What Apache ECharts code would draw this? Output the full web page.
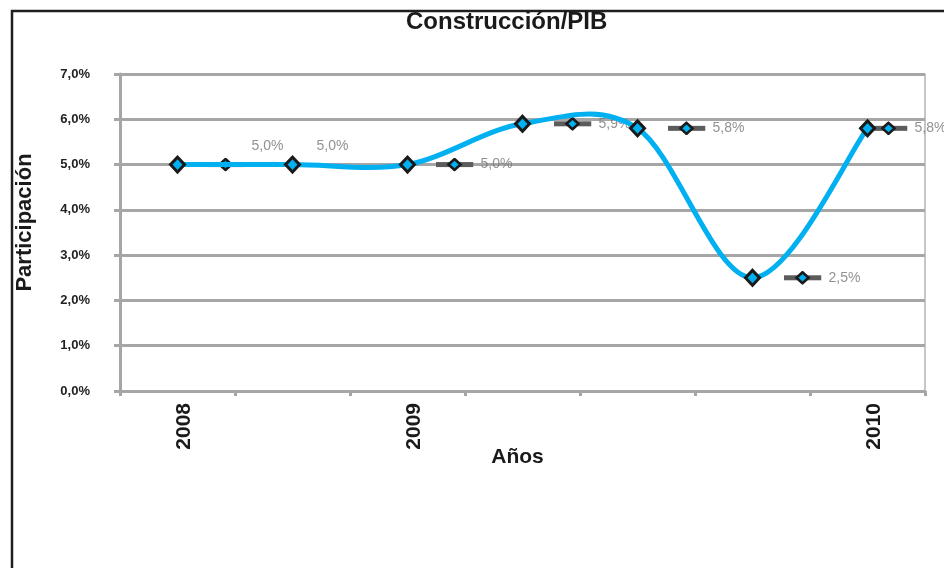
<!DOCTYPE html>
<html>
<head>
<meta charset="utf-8">
<script src="https://cdn.jsdelivr.net/npm/echarts@6/dist/echarts.min.js"></script>
<style>
  html, body { margin: 0; padding: 0; background: #fff; }
  #chart { width: 944px; height: 568px; }
</style>
</head>
<body>
<div id="chart"></div>
<script>
// Share of construction in GDP (percent)
const categories = ['2008', '', '2009', '', '', '', '2010'];
const participacion = [5.0, 5.0, 5.0, 5.9, 5.8, 2.5, 5.8];
const yTicks = [0, 1, 2, 3, 4, 5, 6, 7];

const pct = v => v.toFixed(1).replace('.', ',') + '%';
const FONT = 'Liberation Sans, Arial, sans-serif';

// Legend-key icon shown inside each data label (grey dash + diamond marker)
const keySvg =
  "<svg xmlns='http://www.w3.org/2000/svg' width='38' height='14'>" +
  "<rect x='0' y='4.5' width='38' height='5' fill='#5c5c5c'/>" +
  "<path d='M19 1.5 L25 7 L19 12.5 L13 7 Z' fill='#00b0f0' stroke='#1a1a1a' stroke-width='2.6'/>" +
  "</svg>";
const keyImg = 'data:image/svg+xml;charset=utf-8,' + encodeURIComponent(keySvg);

// Per-point label placement (offset from the marker centre, and layout kind)
const labelPlacement = [
  { dx: 29, dy: -9, kind: 'stacked' },
  { dx: 24, dy: -18, kind: 'text' },
  { dx: 28, dy: 0, kind: 'key' },
  { dx: 31, dy: 0, kind: 'key' },
  { dx: 30, dy: 0, kind: 'key' },
  { dx: 31, dy: 0, kind: 'key' },
  { dx: 2, dy: 0, kind: 'key' }
];

const txt = { color: '#767676', fontSize: 14, fontFamily: FONT, lineHeight: 18 };
const labelRich = {
  k: { width: 38, height: 14, lineHeight: 18, backgroundColor: { image: keyImg } },
  t: Object.assign({ padding: [0, 0, 0, 7] }, txt),
  t0: Object.assign({ padding: [0, 0, 0, 45] }, txt),
  tp: Object.assign({}, txt)
};

const labelData = participacion.map((v, i) => {
  const p = labelPlacement[i];
  let fmt;
  if (p.kind === 'stacked') fmt = '{t0|' + pct(v) + '}\n{k|}';
  else if (p.kind === 'text') fmt = '{tp|' + pct(v) + '}';
  else fmt = '{k|}{t|' + pct(v) + '}';
  return {
    value: [i, v],
    label: {
      show: true,
      position: 'inside',
      align: 'left',
      verticalAlign: 'middle',
      offset: [p.dx, p.dy],
      formatter: fmt,
      rich: labelRich
    }
  };
});

// Smoothed (Catmull-Rom) curve through every data point, in pixel space
function renderCurve(params, api) {
  if (params.dataIndex !== 0) return null;
  const pts = participacion.map((v, i) => api.coord([i, v]));
  const n = pts.length;
  let d = 'M' + pts[0][0] + ' ' + pts[0][1];
  for (let i = 0; i < n - 1; i++) {
    const p0 = pts[Math.max(i - 1, 0)];
    const p1 = pts[i];
    const p2 = pts[i + 1];
    const p3 = pts[Math.min(i + 2, n - 1)];
    const c1x = p1[0] + (p2[0] - p0[0]) / 6;
    const c1y = p1[1] + (p2[1] - p0[1]) / 6;
    const c2x = p2[0] - (p3[0] - p1[0]) / 6;
    const c2y = p2[1] - (p3[1] - p1[1]) / 6;
    d += ' C' + c1x + ' ' + c1y + ' ' + c2x + ' ' + c2y + ' ' + p2[0] + ' ' + p2[1];
  }
  return {
    type: 'path',
    shape: { pathData: d },
    style: { fill: 'none', stroke: '#00b0f0', lineWidth: 5, lineJoin: 'round', lineCap: 'round' },
    silent: true
  };
}

const grey = '#a6a6a6';
const chart = echarts.init(document.getElementById('chart'), null, { renderer: 'canvas' });

chart.setOption({
  backgroundColor: '#ffffff',
  animation: false,
  title: {
    text: 'Construcción/PIB',
    left: 406,
    top: 10,
    padding: 0,
    textStyle: { fontFamily: FONT, fontWeight: 'bold', fontSize: 24, color: '#1a1a1a' }
  },
  graphic: [{
    type: 'rect',
    shape: { x: 12, y: 11, width: 1200, height: 1200 },
    style: { fill: 'none', stroke: '#1e1e1e', lineWidth: 2.5 },
    silent: true,
    z: -1
  }],
  grid: {
    left: 120, right: 19, top: 74, bottom: 177,
    show: true, borderColor: '#b4b4b4', borderWidth: 1.5, backgroundColor: 'transparent'
  },
  xAxis: {
    type: 'category',
    data: categories,
    boundaryGap: true,
    name: 'Años',
    nameLocation: 'middle',
    nameGap: 56,
    nameMoveOverlap: false,
    nameTextStyle: { fontFamily: FONT, fontWeight: 'bold', fontSize: 21, color: '#1a1a1a', padding: [0, 10, 0, 0] },
    axisLine: { show: true, lineStyle: { color: grey, width: 3 } },
    axisTick: { show: true, alignWithLabel: false, interval: 0, length: 5, lineStyle: { color: grey, width: 3 } },
    axisLabel: {
      interval: 0,
      rotate: 90,
      margin: 12,
      verticalAlign: 'top',
      lineHeight: 14,
      fontFamily: FONT,
      fontWeight: 'bold',
      fontSize: 21,
      color: '#1a1a1a'
    },
    splitLine: { show: false }
  },
  yAxis: {
    type: 'value',
    min: yTicks[0],
    max: yTicks[yTicks.length - 1],
    interval: 1,
    name: 'Participación',
    nameLocation: 'middle',
    nameRotate: 90,
    nameGap: 84,
    nameMoveOverlap: false,
    nameTextStyle: { fontFamily: FONT, fontWeight: 'bold', fontSize: 22, color: '#1a1a1a', padding: [0, 0, 0, 20] },
    axisLine: { show: true, lineStyle: { color: grey, width: 3 } },
    axisTick: { show: true, length: 6, lineStyle: { color: grey, width: 3 } },
    axisLabel: {
      margin: 30,
      formatter: v => pct(v),
      fontFamily: FONT,
      fontWeight: 'bold',
      fontSize: 13,
      color: '#222'
    },
    splitLine: { show: true, lineStyle: { color: grey, width: 3 } }
  },
  series: [
    {
      // data labels (drawn beneath the curve)
      type: 'scatter',
      data: labelData,
      symbol: 'circle',
      symbolSize: 1,
      itemStyle: { color: 'rgba(0,0,0,0)' },
      silent: true,
      z: 2
    },
    {
      // smoothed curve
      type: 'custom',
      data: participacion.map((v, i) => [i, v]),
      renderItem: renderCurve,
      silent: true,
      z: 3
    },
    {
      // diamond markers on top of the curve
      type: 'line',
      data: participacion,
      symbol: 'diamond',
      symbolSize: [14, 15],
      showAllSymbol: true,
      lineStyle: { width: 0, opacity: 0 },
      itemStyle: { color: '#00b0f0', borderColor: '#1a1a1a', borderWidth: 3 },
      z: 4
    }
  ]
});
</script>
</body>
</html>
